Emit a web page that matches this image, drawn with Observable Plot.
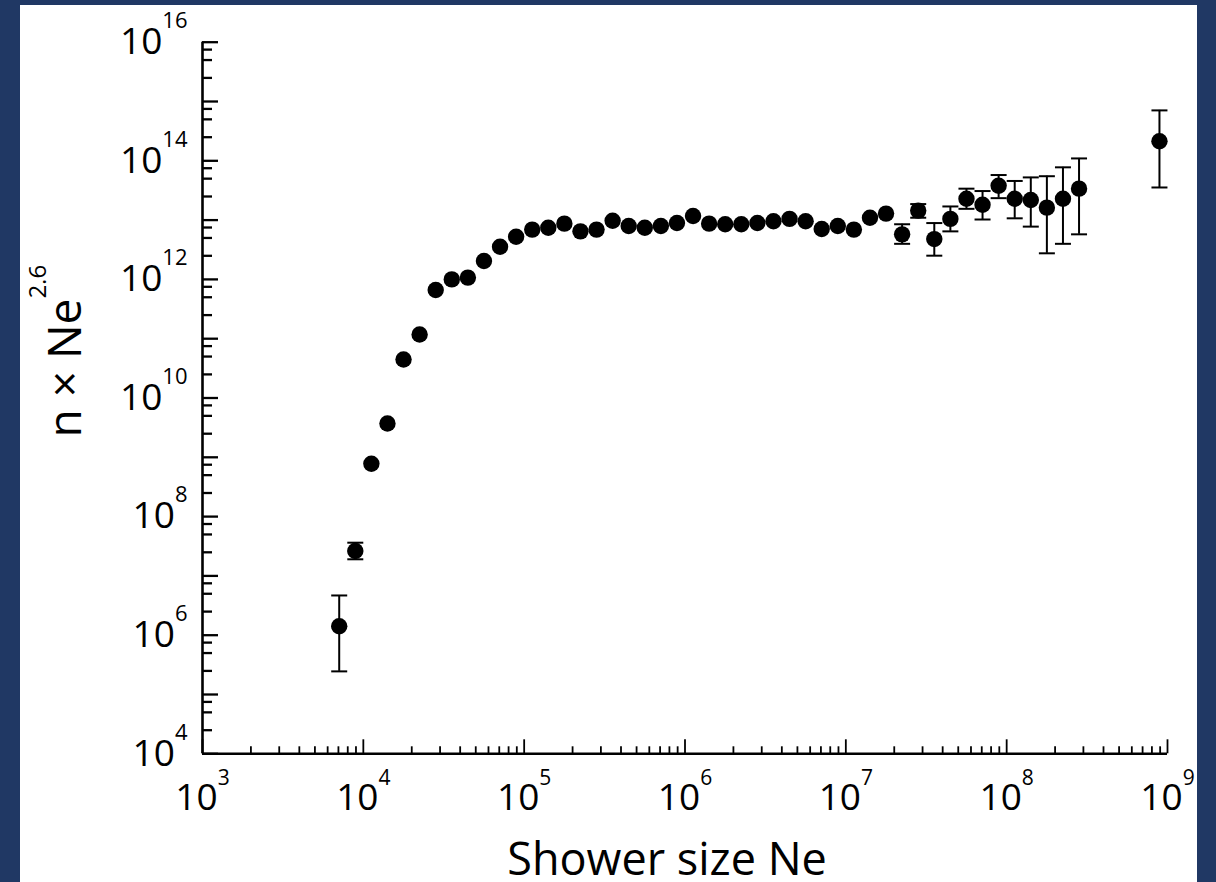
<!DOCTYPE html>
<html>
<head>
<meta charset="utf-8">
<script src="https://cdn.jsdelivr.net/npm/d3@7"></script>
<script src="https://cdn.jsdelivr.net/npm/@observablehq/plot@0.6"></script>
<style>
html, body { margin:0; padding:0; width:1216px; height:882px; overflow:hidden; background:#203864; }
#chart { position:absolute; left:20px; top:5px; width:1177px; height:877px; background:#ffffff; }
#chart svg { display:block; }
</style>
</head>
<body>
<div id="chart"></div>
<script>
// log10 of shower size Ne (bin centres)
const logNe = [3.85, 3.95, 4.05, 4.15, 4.25, 4.35, 4.45, 4.55, 4.65, 4.75,
               4.85, 4.95, 5.05, 5.15, 5.25, 5.35, 5.45, 5.55, 5.65, 5.75,
               5.85, 5.95, 6.05, 6.15, 6.25, 6.35, 6.45, 6.55, 6.65, 6.75,
               6.85, 6.95, 7.05, 7.15, 7.25, 7.35, 7.45, 7.55, 7.65, 7.75,
               7.85, 7.95, 8.05, 8.15, 8.25, 8.35, 8.45, 8.95];
// log10 of n x Ne^2.6
const logFlux = [6.15, 7.42, 8.89, 9.57, 10.65, 11.07, 11.82, 12.00, 12.03, 12.31,
                 12.55, 12.72, 12.84, 12.87, 12.94, 12.81, 12.84, 12.99, 12.90, 12.87,
                 12.90, 12.95, 13.07, 12.94, 12.93, 12.93, 12.95, 12.98, 13.02, 12.98,
                 12.85, 12.90, 12.84, 13.04, 13.11, 12.76, 13.16, 12.68, 13.02, 13.36,
                 13.26, 13.58, 13.36, 13.34, 13.21, 13.36, 13.53, 14.33];
// points carrying error bars (index into the arrays above) and their log10 limits
const errIndex = [0, 1, 35, 36, 37, 38, 39, 40, 41, 42, 43, 44, 45, 46, 47];
const errLow   = [5.39, 7.28, 12.60, 13.04, 12.40, 12.81, 13.19, 13.01, 13.37, 13.03, 12.89, 12.44, 12.60, 12.76, 13.55];
const errHigh  = [6.67, 7.56, 12.93, 13.27, 12.95, 13.23, 13.53, 13.49, 13.76, 13.66, 13.72, 13.74, 13.89, 14.04, 14.85];

// axis ticks
const xDecades = [3, 4, 5, 6, 7, 8, 9];
const xMinorMult = [2, 3, 4, 5, 6, 7, 8, 9];
const yDecades = [4, 5, 6, 7, 8, 9, 10, 11, 12, 13, 14, 15, 16];
const yLabelDecades = [4, 6, 8, 10, 12, 14, 16];
const yMinorMult = [2.5, 5, 7.5];

const xTitle = "Shower size Ne";
const yTitle = "n × Ne^2.6";

const points = logNe.map((lx, i) => ({ne: 10 ** lx, flux: 10 ** logFlux[i]}));
const errs = errIndex.map((k, j) => ({ne: 10 ** logNe[k], lo: 10 ** errLow[j], hi: 10 ** errHigh[j]}));

const xMajor = xDecades.map(e => 10 ** e);
const xMinor = xDecades.slice(0, -1).flatMap(e => xMinorMult.map(m => m * 10 ** e));
const yMajor = yDecades.map(e => 10 ** e);
const yMinor = yDecades.slice(0, -1).flatMap(e => yMinorMult.map(m => m * 10 ** e));
const yLabels = yLabelDecades.map(e => 10 ** e);

const powFmt = d => "10^" + Math.round(Math.log10(d));

const capSymbol = {
  draw(ctx, size) {
    const w = Math.sqrt(size / Math.PI);
    ctx.moveTo(-w, 0);
    ctx.lineTo(w, 0);
  }
};

const svg = Plot.plot({
  width: 1177,
  height: 877,
  marginLeft: 182,
  marginRight: 30,
  marginTop: 36.7,
  marginBottom: 128.7,
  style: {background: "#ffffff", fontFamily: "'Open Sans', sans-serif", color: "#000"},
  x: {type: "log", domain: [1e3, 1e9], axis: null},
  y: {type: "log", domain: [1e4, 1e16], axis: null},
  marks: [
    // axis lines
    Plot.ruleX([1e3], {stroke: "#000", strokeWidth: 2.6}),
    Plot.ruleY([1e4], {stroke: "#000", strokeWidth: 2.6}),
    // inward ticks
    Plot.axisX(xMinor, {anchor: "bottom", tickSize: 7, dy: -7, fill: "none", strokeWidth: 1.8, label: null}),
    Plot.axisX(xMajor, {anchor: "bottom", tickSize: 14, dy: -14, fill: "none", strokeWidth: 1.8, label: null}),
    Plot.axisY(yMinor, {anchor: "left", tickSize: 10, dx: 10, fill: "none", strokeWidth: 2.3, label: null}),
    Plot.axisY(yMajor, {anchor: "left", tickSize: 16, dx: 16, fill: "none", strokeWidth: 2.3, label: null}),
    // tick labels
    Plot.text(xMajor, {x: d => d, text: powFmt, frameAnchor: "bottom", lineAnchor: "top", textAnchor: "middle", dy: 30, fontSize: 37, fill: "#000"}),
    Plot.text(yLabels, {y: d => d, text: powFmt, frameAnchor: "left", lineAnchor: "middle", textAnchor: "end", dx: -15, fontSize: 37, fill: "#000"}),
    // axis titles
    Plot.text([xTitle], {text: d => d, frameAnchor: "bottom", lineAnchor: "bottom", textAnchor: "middle", dx: -18, dy: 121.5, fontSize: 45, fill: "#000"}),
    Plot.text([yTitle], {text: d => d, frameAnchor: "left", rotate: -90, lineAnchor: "bottom", textAnchor: "start", dx: -122, dy: 39.5, fontSize: 46, fill: "#000"}),
    // error bars
    Plot.ruleX(errs, {x: "ne", y1: "lo", y2: "hi", stroke: "#000", strokeWidth: 2}),
    Plot.dot(errs, {x: "ne", y: "lo", symbol: capSymbol, r: 8, stroke: "#000", strokeWidth: 2, fill: "none"}),
    Plot.dot(errs, {x: "ne", y: "hi", symbol: capSymbol, r: 8, stroke: "#000", strokeWidth: 2, fill: "none"}),
    // data points
    Plot.dot(points, {x: "ne", y: "flux", r: 8.2, fill: "#000", stroke: "none"})
  ]
});

// turn "base^exp" texts into a base + superscript
const NS = "http://www.w3.org/2000/svg";
svg.querySelectorAll("text").forEach(t => {
  const s = t.textContent;
  if (!s.includes("^")) return;
  const [base, exp] = s.split("^");
  const isTitle = base.includes("Ne");
  const isY = t.getAttribute("text-anchor") === "end" || (t.parentNode && t.parentNode.getAttribute("text-anchor") === "end");
  let size, shift;
  if (isTitle) { size = 24; shift = -35; }
  else if (isY) { size = 22; shift = -26; }
  else { size = 21; shift = -25; }
  t.textContent = "";
  const a = document.createElementNS(NS, "tspan");
  a.textContent = base;
  const b = document.createElementNS(NS, "tspan");
  b.setAttribute("dy", shift);
  b.setAttribute("font-size", size);
  b.textContent = exp;
  t.appendChild(a);
  t.appendChild(b);
});

document.getElementById("chart").appendChild(svg);
</script>
</body>
</html>
